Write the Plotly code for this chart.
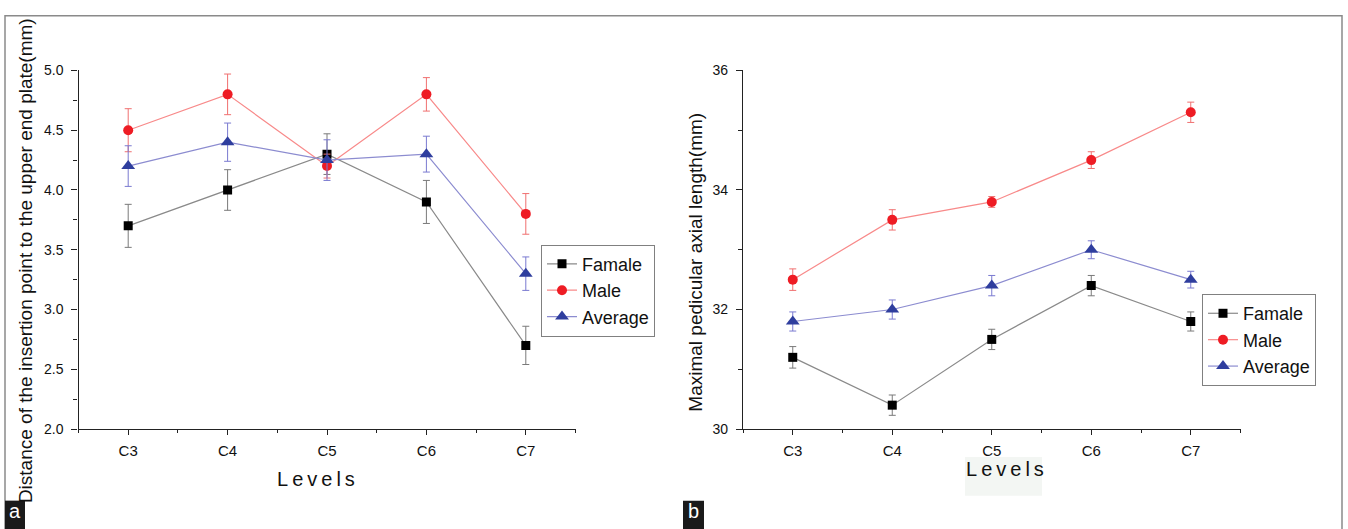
import plotly.graph_objects as go

levels = ["C3", "C4", "C5", "C6", "C7"]
xpos = [0, 1, 2, 3, 4]

# Panel a: distance of insertion point to upper end plate (mm)
a_female = [3.70, 4.00, 4.30, 3.90, 2.70]
a_female_err = [0.18, 0.17, 0.17, 0.18, 0.16]
a_male = [4.50, 4.80, 4.20, 4.80, 3.80]
a_male_err = [0.18, 0.17, 0.10, 0.14, 0.17]
a_avg = [4.20, 4.40, 4.25, 4.30, 3.30]
a_avg_err = [0.17, 0.16, 0.17, 0.15, 0.14]

# Panel b: maximal pedicular axial length (mm)
b_female = [31.2, 30.4, 31.5, 32.4, 31.8]
b_female_err = [0.18, 0.17, 0.17, 0.17, 0.16]
b_male = [32.5, 33.5, 33.8, 34.5, 35.3]
b_male_err = [0.18, 0.17, 0.09, 0.14, 0.17]
b_avg = [31.8, 32.0, 32.4, 33.0, 32.5]
b_avg_err = [0.16, 0.16, 0.17, 0.15, 0.14]

series_names = ["Famale", "Male", "Average"]

W, H = 1348, 529
FONT = "Liberation Sans, Arial, sans-serif"

styles = [
    dict(line="#8a8a8a", marker="#000000", err="#7a7a7a", symbol="square", size=9),
    dict(line="#f88a8a", marker="#ee1c24", err="#f07070", symbol="circle", size=10),
    dict(line="#8c8cd0", marker="#2f3e9e", err="#7a7ad0", symbol="triangle-up", size=12),
]

fig = go.Figure()

def add_panel(vals, errs, xaxis, yaxis, legend):
    for name, v, e, st in zip(series_names, vals, errs, styles):
        fig.add_trace(go.Scatter(
            x=xpos, y=v, name=name, mode="lines+markers",
            xaxis=xaxis, yaxis=yaxis, legend=legend,
            line=dict(color=st["line"], width=1.2),
            marker=dict(symbol=st["symbol"], size=st["size"], color=st["marker"],
                        line=dict(width=0)),
            error_y=dict(type="data", array=e, visible=True, color=st["err"],
                         thickness=1, width=3.5),
        ))

add_panel([a_female, a_male, a_avg], [a_female_err, a_male_err, a_avg_err], "x", "y", "legend")
add_panel([b_female, b_male, b_avg], [b_female_err, b_male_err, b_avg_err], "x2", "y2", "legend2")

def px_x(p):
    return p / W

def px_y(p):
    return 1 - p / H

ydom = [px_y(434.2), px_y(64.4)]

xaxis_common = dict(
    range=[-0.5, 4.5], tickmode="array", tickvals=xpos, ticktext=levels,
    showline=True, linecolor="#222", linewidth=1.3, ticks="outside", ticklen=5,
    tickcolor="#222", tickwidth=1.2, showgrid=False, zeroline=False,
    tickfont=dict(family=FONT, size=15, color="#111"), ticklabelstandoff=3,
    minor=dict(tickmode="linear", tick0=-0.5, dtick=0.5, ticks="outside", ticklen=3,
               tickcolor="#222", tickwidth=1.2, showgrid=False),
    fixedrange=True,
)

yaxis_common = dict(
    showline=True, linecolor="#222", linewidth=1.3, ticks="outside", ticklen=6,
    tickcolor="#222", tickwidth=1.2, showgrid=False, zeroline=False,
    tickfont=dict(family=FONT, size=14, color="#111"), ticklabelstandoff=5,
    fixedrange=True,
)

fig.update_layout(
    width=W, height=H,
    margin=dict(l=0, r=0, t=0, b=0),
    paper_bgcolor="white", plot_bgcolor="white",
    hovermode=False,
    xaxis=dict(domain=[px_x(78.5), px_x(575.5)], anchor="y", **xaxis_common),
    xaxis2=dict(domain=[px_x(743), px_x(1240.5)], anchor="y2", **xaxis_common),
    yaxis=dict(domain=ydom, anchor="x", range=[2, 5], tickmode="linear", tick0=2, dtick=0.5,
               tickformat=".1f",
               minor=dict(tickmode="linear", tick0=2, dtick=0.25, ticks="outside", ticklen=4,
                          tickcolor="#222", tickwidth=1.2, showgrid=False),
               **yaxis_common),
    yaxis2=dict(domain=ydom, anchor="x2", range=[30, 36], tickmode="linear", tick0=30, dtick=2,
                minor=dict(tickmode="linear", tick0=30, dtick=1, ticks="outside", ticklen=4,
                           tickcolor="#222", tickwidth=1.2, showgrid=False),
                **yaxis_common),
    legend=dict(x=px_x(541), y=px_y(244), xanchor="left", yanchor="top",
                bordercolor="#808080", borderwidth=1, bgcolor="white",
                font=dict(family=FONT, size=18, color="#111"), tracegroupgap=0,
                itemclick=False, itemdoubleclick=False),
    legend2=dict(x=px_x(1202), y=px_y(295), xanchor="left", yanchor="top",
                 bordercolor="#808080", borderwidth=1, bgcolor="white",
                 font=dict(family=FONT, size=18, color="#111"), tracegroupgap=0,
                 itemclick=False, itemdoubleclick=False),
    showlegend=True,
)

annotations = [
    dict(text="Distance of the insertion point to the upper end plate(mm)",
         x=px_x(25), y=px_y(261), textangle=-90),
    dict(text="Maximal pedicular axial length(mm)", x=px_x(694.6), y=px_y(262), textangle=-90),
]
for a in annotations:
    fig.add_annotation(xref="paper", yref="paper", showarrow=False, xanchor="center",
                       yanchor="middle", font=dict(family=FONT, size=19, color="#111"), **a)

lev = "L\u2009e\u2009v\u2009e\u2009l\u2009s"
for cx, cy in [(316, 486), (1005, 475.5)]:
    fig.add_annotation(xref="paper", yref="paper", showarrow=False, text=lev,
                       x=px_x(cx), y=px_y(cy), xanchor="center", yanchor="middle",
                       font=dict(family=FONT, size=20, color="#111"))

shapes = [
    dict(type="rect", xref="paper", yref="paper", x0=px_x(5), x1=px_x(1342),
         y0=-0.05, y1=px_y(8), line=dict(color="#8a8a8a", width=1.5), layer="below"),
    dict(type="rect", xref="paper", yref="paper", x0=px_x(965), x1=px_x(1042),
         y0=px_y(503), y1=px_y(463), line=dict(width=0), fillcolor="#f3f6f3", layer="below"),
    dict(type="rect", xref="paper", yref="paper", x0=px_x(5), x1=px_x(25),
         y0=-0.05, y1=px_y(508), line=dict(width=0), fillcolor="#1a1a1a"),
    dict(type="rect", xref="paper", yref="paper", x0=px_x(683), x1=px_x(704),
         y0=-0.05, y1=px_y(508), line=dict(width=0), fillcolor="#1a1a1a"),
]
fig.update_layout(shapes=shapes)

for t, cx in [("a", 15), ("b", 693.5)]:
    fig.add_annotation(xref="paper", yref="paper", showarrow=False, text=t,
                       x=px_x(cx), y=px_y(519), xanchor="center", yanchor="middle",
                       font=dict(family=FONT, size=20, color="white"))

fig.write_html(
    "out.html",
    config={"displayModeBar": False, "staticPlot": False},
    post_script="document.body.style.margin='0';document.body.style.padding='0';"
                "document.body.style.overflow='hidden';",
)
